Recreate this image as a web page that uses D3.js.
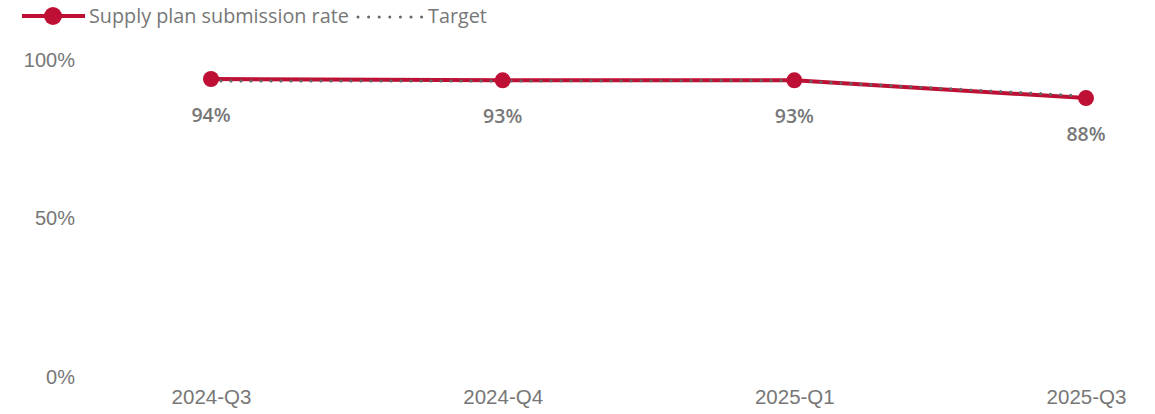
<!DOCTYPE html>
<html>
<head>
<meta charset="utf-8">
<script src="https://cdn.jsdelivr.net/npm/d3@7"></script>
<style>
  body { margin: 0; background: #fff; }
  svg { display: block; font-family: "Segoe UI", "Open Sans", "Noto Sans", sans-serif; }
</style>
</head>
<body>
<script>
// data
var quarters = ["2024-Q3", "2024-Q4", "2025-Q1", "2025-Q3"];
var submissionRate = [0.94, 0.936, 0.936, 0.88];
var targetRate = [0.934, 0.934, 0.935, 0.886];
var yTicks = [0, 0.5, 1];

var w = 1155, h = 414;
var red = "#BE0F34", grey = "#777777";

var svg = d3.select("body").append("svg")
    .attr("width", w)
    .attr("height", h);

// scales
var xScale = d3.scalePoint().domain(quarters).range([211, 1086]);
var yScale = d3.scaleLinear().domain([0, 1]).range([377, 60]);

// y axis (labels only)
var yAxis = d3.axisLeft(yScale)
    .tickValues(yTicks)
    .tickFormat(d3.format(".0%"))
    .tickSize(0)
    .tickPadding(0);

svg.append("g")
    .attr("transform", "translate(75,0)")
    .call(yAxis)
    .call(function(g){ g.select(".domain").remove(); })
    .selectAll("text")
    .attr("fill", grey)
    .style("font-size", "20px")
    .style("font-family", "inherit");

// x axis (labels only)
var xAxis = d3.axisBottom(xScale).tickSize(0).tickPadding(0);

svg.append("g")
    .attr("transform", "translate(0,389)")
    .call(xAxis)
    .call(function(g){ g.select(".domain").remove(); })
    .selectAll("text")
    .attr("fill", grey)
    .style("font-size", "20.5px")
    .style("font-family", "inherit");

var line = d3.line()
    .x(function(d, i){ return xScale(quarters[i]); })
    .y(function(d){ return yScale(d); });

// actual line
svg.append("path")
    .datum(submissionRate)
    .attr("d", line)
    .attr("fill", "none")
    .attr("stroke", red)
    .attr("stroke-width", 4);

// target dotted line on top
svg.append("path")
    .datum(targetRate)
    .attr("d", line)
    .attr("fill", "none")
    .attr("stroke", "#666666")
    .attr("stroke-width", 3.2)
    .attr("stroke-linecap", "round")
    .attr("stroke-dasharray", "0 10");

// markers
svg.selectAll("circle.pt")
    .data(submissionRate)
    .enter()
    .append("circle")
    .attr("class", "pt")
    .attr("cx", function(d, i){ return xScale(quarters[i]); })
    .attr("cy", function(d){ return yScale(d); })
    .attr("r", 8)
    .attr("fill", red);

// data labels
svg.selectAll("text.lbl")
    .data(submissionRate)
    .enter()
    .append("text")
    .attr("class", "lbl")
    .attr("x", function(d, i){ return xScale(quarters[i]); })
    .attr("y", function(d){ return yScale(d) + 43; })
    .attr("text-anchor", "middle")
    .attr("fill", grey)
    .style("font-size", "19.5px")
    .style("font-weight", "600")
    .text(function(d){ return Math.floor(d * 100) + "%"; });

// legend
var legend = svg.append("g");
legend.append("line")
    .attr("x1", 22).attr("x2", 85).attr("y1", 16).attr("y2", 16)
    .attr("stroke", red).attr("stroke-width", 4);
legend.append("circle")
    .attr("cx", 53).attr("cy", 16).attr("r", 9).attr("fill", red);
legend.append("text")
    .attr("x", 89).attr("y", 23)
    .attr("fill", grey)
    .style("font-size", "19.8px")
    .text("Supply plan submission rate");
legend.append("line")
    .attr("x1", 358).attr("x2", 422).attr("y1", 17).attr("y2", 17)
    .attr("stroke", "#666666").attr("stroke-width", 3)
    .attr("stroke-linecap", "round")
    .attr("stroke-dasharray", "0 10.6");
legend.append("text")
    .attr("x", 428).attr("y", 23)
    .attr("fill", grey)
    .style("font-size", "19.8px")
    .text("Target");
</script>
</body>
</html>
